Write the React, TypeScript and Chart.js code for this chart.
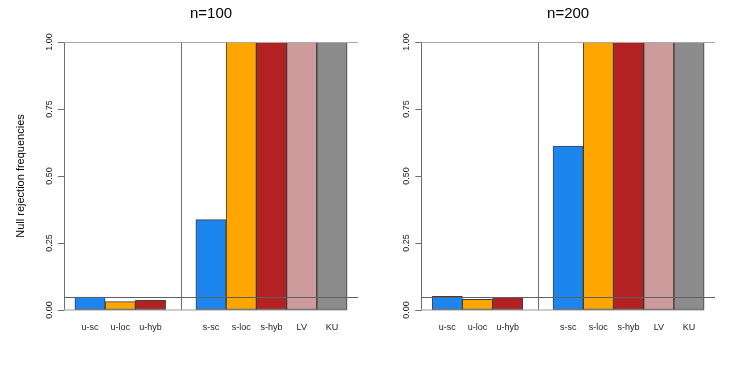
import React, { useEffect, useRef } from "react";
import { Chart, registerables } from "chart.js";

Chart.register(...registerables);

// ---- data ----
const categories = ["u-sc", "u-loc", "u-hyb", "s-sc", "s-loc", "s-hyb", "LV", "KU"];
const groups = ["u", "u", "u", "s", "s", "s", "s", "s"];
const valuesN100 = [0.048, 0.031, 0.036, 0.337, 1, 1, 1, 1];
const valuesN200 = [0.051, 0.04, 0.046, 0.612, 1, 1, 1, 1];
const yTicks = [0, 0.25, 0.5, 0.75, 1];
const nominalLevel = 0.05;
const barColors = ["#1C86EE", "#FFA500", "#B22222", "#1C86EE", "#FFA500", "#B22222", "#CD9B9B", "#8C8C8C"];

const FONT = "'Liberation Sans', Arial, Helvetica, sans-serif";

// bar centres: one unit per bar, one empty unit between the two groups
const barCentres = categories.map((_, i) => {
  let gap = 0;
  for (let k = 1; k <= i; k++) if (groups[k] !== groups[k - 1]) gap += 1;
  return i + 0.5 + gap;
});
const firstEdge = barCentres[0] - 0.5;
const lastEdge = barCentres[barCentres.length - 1] + 0.5;
const pad = (lastEdge - firstEdge) * 0.04;
const separator = (barCentres[2] + barCentres[3]) / 2;

const refLines = {
  id: "refLines",
  beforeDatasetsDraw(chart: any) {
    const { ctx, chartArea, scales } = chart;
    const x = scales.x;
    const y = scales.y;
    ctx.save();
    // zero line under bars
    ctx.strokeStyle = "#bdbdbd";
    ctx.lineWidth = 1.5;
    ctx.beginPath();
    const y0 = y.getPixelForValue(0);
    ctx.moveTo(chartArea.left, y0);
    ctx.lineTo(x.getPixelForValue(lastEdge), y0);
    ctx.stroke();
    // separator
    ctx.strokeStyle = "#707070";
    ctx.lineWidth = 1;
    ctx.beginPath();
    const xs = Math.round(x.getPixelForValue(separator)) + 0.5;
    ctx.moveTo(xs, chartArea.top);
    ctx.lineTo(xs, chartArea.bottom);
    ctx.stroke();
    ctx.restore();
  },
  afterDatasetsDraw(chart: any) {
    const { ctx, chartArea, scales } = chart;
    const y = scales.y;
    ctx.save();
    ctx.lineWidth = 1;
    ctx.strokeStyle = "#a8a8a8";
    ctx.beginPath();
    const y1 = Math.round(y.getPixelForValue(1)) + 0.5;
    ctx.moveTo(chartArea.left, y1);
    ctx.lineTo(chartArea.right, y1);
    ctx.stroke();
    ctx.strokeStyle = "#606060";
    ctx.beginPath();
    const yn = Math.round(y.getPixelForValue(nominalLevel)) + 0.5;
    ctx.moveTo(chartArea.left, yn);
    ctx.lineTo(chartArea.right, yn);
    ctx.stroke();
    ctx.restore();
  },
};

type PanelProps = {
  title: string;
  values: number[];
  width: number;
  left: number;
  axisWidth: number;
  rightPad: number;
  showYTitle: boolean;
};

function Panel({ title, values, width, left, axisWidth, rightPad, showYTitle }: PanelProps) {
  const ref = useRef<HTMLCanvasElement | null>(null);
  useEffect(() => {
    if (!ref.current) return;
    const chart = new Chart(ref.current, {
      type: "bar",
      data: {
        datasets: [
          {
            data: values.map((v, i) => ({ x: barCentres[i], y: v })),
            backgroundColor: barColors,
            borderColor: "rgba(30,30,30,0.85)",
            borderWidth: 1,
            borderSkipped: false,
            categoryPercentage: 1,
            barPercentage: 1,
          } as any,
        ],
      },
      options: {
        responsive: false,
        animation: false,
        devicePixelRatio: 1,
        layout: { padding: { left: 0, right: rightPad, top: 0, bottom: 0 } },
        plugins: {
          legend: { display: false },
          tooltip: { enabled: false },
          title: {
            display: true,
            text: title,
            fullSize: false,
            color: "#000",
            font: { family: FONT, size: 15, weight: "normal" },
            padding: { top: 5, bottom: 19 },
          },
        },
        scales: {
          x: {
            type: "linear",
            offset: false,
            min: firstEdge - pad,
            max: lastEdge + pad,
            grid: { display: false, drawTicks: false, offset: false },
            border: { display: false },
            afterBuildTicks: (scale: any) => {
              scale.ticks = barCentres.map((v) => ({ value: v }));
            },
            afterFit: (scale: any) => {
              scale.height = 64;
            },
            ticks: {
              autoSkip: false,
              maxRotation: 0,
              minRotation: 0,
              padding: 12,
              color: "#1a1a1a",
              font: { family: FONT, size: 9 },
              callback: (_v: any, i: number) => categories[i],
            },
          },
          y: {
            type: "linear",
            min: 0,
            max: 1,
            afterBuildTicks: (scale: any) => {
              scale.ticks = yTicks.map((v) => ({ value: v }));
            },
            afterFit: (scale: any) => {
              scale.width = axisWidth;
            },
            grid: {
              display: true,
              drawOnChartArea: false,
              drawTicks: true,
              tickLength: 6,
              color: "#6e6e6e",
            },
            border: { display: true, color: "#6e6e6e", width: 1 },
            ticks: {
              minRotation: 90,
              maxRotation: 90,
              crossAlign: "center",
              padding: 0,
              color: "#1a1a1a",
              font: { family: FONT, size: 9 },
              callback: (v: any) => Number(v).toFixed(2),
            },
            title: {
              display: showYTitle,
              text: "Null rejection frequencies",
              color: "#000",
              font: { family: FONT, size: 11 },
              padding: { top: 14, bottom: 0 },
            },
          },
        },
      },
      plugins: [refLines],
    } as any);
    return () => chart.destroy();
  }, []);
  return (
    <canvas
      ref={ref}
      width={width}
      height={374}
      style={{ position: "absolute", left, top: 0, width, height: 374, display: "block" }}
    />
  );
}

export default function App() {
  return (
    <div style={{ position: "absolute", left: 0, top: 0, width: 747, height: 374, background: "#fff" }}>
      <Panel title="n=100" values={valuesN100} width={374} left={0} axisWidth={64} rightPad={16} showYTitle={true} />
      <Panel title="n=200" values={valuesN200} width={373} left={374} axisWidth={47.3} rightPad={32} showYTitle={false} />
    </div>
  );
}
